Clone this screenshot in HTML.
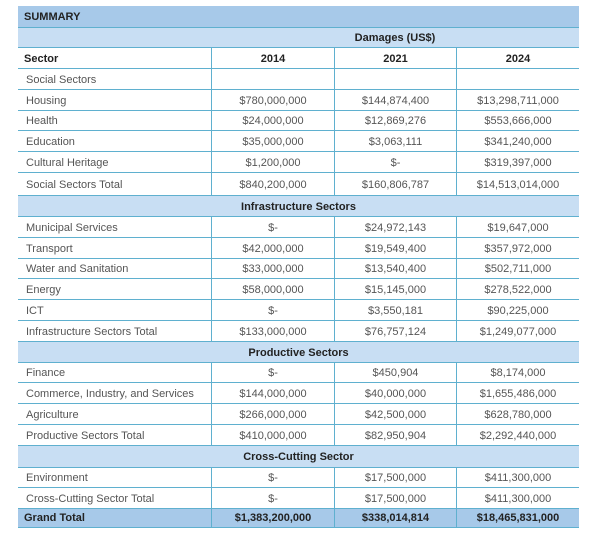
<!DOCTYPE html><html><head><style>
body{margin:0;width:600px;height:534px;background:#fff;font-family:"Liberation Sans",sans-serif;position:relative;overflow:hidden}
.r{position:absolute;left:18px;width:561px;border-top:1px solid #5fb0cf;box-sizing:border-box;font-size:11px;color:#555}
.c{position:absolute;top:0;bottom:0;display:flex;align-items:center;box-sizing:border-box;white-space:nowrap}
.v{border-left:1px solid #5fb0cf;justify-content:center}
.b{font-weight:bold;color:#222}
</style></head><body>
<div id="t"></div>
<script>
const rows=[
["S","SUMMARY",6,27],
["D","Damages (US$)",27,47],
["H",["Sector","2014","2021","2024"],47,68],
["N",["Social Sectors","","",""],68,89],
["N",["Housing","$780,000,000","$144,874,400","$13,298,711,000"],89,110],
["N",["Health","$24,000,000","$12,869,276","$553,666,000"],110,130],
["N",["Education","$35,000,000","$3,063,111","$341,240,000"],130,151],
["N",["Cultural Heritage","$1,200,000","$-","$319,397,000"],151,172],
["N",["Social Sectors Total","$840,200,000","$160,806,787","$14,513,014,000"],172,195],
["X","Infrastructure Sectors",195,216],
["N",["Municipal Services","$-","$24,972,143","$19,647,000"],216,237],
["N",["Transport","$42,000,000","$19,549,400","$357,972,000"],237,258],
["N",["Water and Sanitation","$33,000,000","$13,540,400","$502,711,000"],258,278],
["N",["Energy","$58,000,000","$15,145,000","$278,522,000"],278,299],
["N",["ICT","$-","$3,550,181","$90,225,000"],299,320],
["N",["Infrastructure Sectors Total","$133,000,000","$76,757,124","$1,249,077,000"],320,341],
["X","Productive Sectors",341,362],
["N",["Finance","$-","$450,904","$8,174,000"],362,382],
["N",["Commerce, Industry, and Services","$144,000,000","$40,000,000","$1,655,486,000"],382,403],
["N",["Agriculture","$266,000,000","$42,500,000","$628,780,000"],403,424],
["N",["Productive Sectors Total","$410,000,000","$82,950,904","$2,292,440,000"],424,445],
["X","Cross-Cutting Sector",445,467],
["N",["Environment","$-","$17,500,000","$411,300,000"],467,487],
["N",["Cross-Cutting Sector Total","$-","$17,500,000","$411,300,000"],487,508],
["G",["Grand Total","$1,383,200,000","$338,014,814","$18,465,831,000"],508,528]];
const cols=[[0,193],[193,316],[316,438],[438,561]];
let h="";
for(const [k,d,y0,y1] of rows){
 let bg=k=="S"||k=="G"?"#a7c9e9":(k=="D"||k=="X"?"#c8def3":"#fff");
 let st=`top:${y0}px;height:${y1-y0+(k=="G"?0:1)}px;background:${bg};`+(k=="S"?"border-top:none;":"")+(k=="G"?"border-bottom:1px solid #5fb0cf;":"");
 h+=`<div class="r" style="${st}">`;
 if(k=="S")h+=`<div class="c b" style="left:6px">${d}</div>`;
 else if(k=="D")h+=`<div class="c b" style="left:316px;width:122px;justify-content:center">${d}</div>`;
 else if(k=="X")h+=`<div class="c b" style="left:0;width:561px;justify-content:center">${d}</div>`;
 else d.forEach((s,i)=>{h+=`<div class="c ${i?"v":""} ${k=="H"||k=="G"?"b":""}" style="left:${cols[i][0]}px;width:${cols[i][1]-cols[i][0]}px;${i?"":"padding-left:"+(k=="H"||k=="G"?6:8)+"px"}">${s}</div>`});
 h+="</div>";
}
document.getElementById("t").innerHTML=h;
</script>
</body></html>
